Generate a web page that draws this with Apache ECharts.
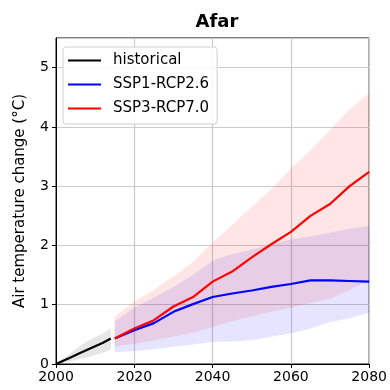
<!DOCTYPE html>
<html>
<head>
<meta charset="utf-8">
<script src="https://cdn.jsdelivr.net/npm/echarts@6/dist/echarts.min.js"></script>
<style>html,body{margin:0;padding:0;background:#fff}#c{width:390px;height:390px}</style>
</head>
<body>
<div id="c"></div>
<script>
const titleText = 'Afar';
const yLabel = 'Air temperature change (°C)';
const seriesNames = ['historical', 'SSP1-RCP2.6', 'SSP3-RCP7.0'];

const histYears = [2000, 2002, 2004, 2006, 2008, 2010, 2012, 2014];
const histMean  = [0.00, 0.06, 0.12, 0.18, 0.24, 0.30, 0.36, 0.43];
const histUpper = [0.00, 0.10, 0.20, 0.30, 0.38, 0.45, 0.52, 0.60];
const histLower = [0.00, 0.02, 0.05, 0.08, 0.11, 0.15, 0.19, 0.24];

const sspYears  = [2015, 2020, 2025, 2030, 2035, 2040, 2045, 2050, 2055, 2060, 2065, 2070, 2075, 2080];
const ssp126Mean  = [0.43, 0.57, 0.69, 0.88, 1.01, 1.13, 1.19, 1.24, 1.30, 1.35, 1.41, 1.41, 1.40, 1.39];
const ssp126Upper = [0.72, 0.95, 1.12, 1.30, 1.50, 1.74, 1.85, 1.93, 2.02, 2.10, 2.15, 2.22, 2.28, 2.33];
const ssp126Lower = [0.20, 0.22, 0.25, 0.29, 0.33, 0.37, 0.38, 0.40, 0.46, 0.52, 0.60, 0.71, 0.77, 0.86];
const ssp370Mean  = [0.43, 0.60, 0.74, 0.97, 1.13, 1.39, 1.56, 1.80, 2.02, 2.23, 2.50, 2.70, 3.00, 3.24];
const ssp370Upper = [0.80, 1.05, 1.25, 1.48, 1.72, 2.05, 2.35, 2.65, 2.95, 3.30, 3.60, 3.95, 4.30, 4.57];
const ssp370Lower = [0.30, 0.34, 0.40, 0.46, 0.53, 0.63, 0.72, 0.80, 0.88, 0.95, 1.03, 1.10, 1.25, 1.42];

const xTicks = [2000, 2020, 2040, 2060, 2080];
const yTicks = [0, 1, 2, 3, 4, 5];

const pairs = (xs, ys) => xs.map((x, i) => [x, ys[i]]);

function band(id, xs, up, lo, color) {
  const rows = xs.map((x, i) => [x, lo[i], up[i]]);
  return {
    name: id, type: 'custom', data: rows, encode: { x: 0, y: [1, 2] }, silent: true, z: 1,
    renderItem: (params, api) => {
      if (params.dataIndex !== 0) return null;
      const pts = [];
      for (let i = 0; i < rows.length; i++) pts.push(api.coord([rows[i][0], rows[i][2]]));
      for (let i = rows.length - 1; i >= 0; i--) pts.push(api.coord([rows[i][0], rows[i][1]]));
      return { type: 'polygon', shape: { points: pts }, style: { fill: color, stroke: null } };
    }
  };
}

const FONT = 'DejaVu Sans';
const chart = echarts.init(document.getElementById('c'), null, { renderer: 'canvas' });
chart.setOption({
  animation: false,
  backgroundColor: '#fff',
  title: { text: titleText, left: 212, top: 8, textAlign: 'center',
    textStyle: { fontFamily: FONT, fontSize: 18, fontWeight: 'bold', color: '#000' } },
  grid: { left: 56, right: 20, top: 38, bottom: 26, show: true, borderColor: '#000', borderWidth: 1, backgroundColor: 'transparent' },
  legend: {
    data: seriesNames, orient: 'vertical', left: 63, top: 47,
    backgroundColor: 'rgba(255,255,255,0.85)', borderColor: '#d0d0d0', borderWidth: 1, borderRadius: 3,
    padding: [6, 8, 8, 5], itemGap: 9, itemWidth: 33, itemHeight: 15,
    icon: 'path://M0,6.4 L33,6.4 L33,8.6 L0,8.6 Z',
    textStyle: { fontFamily: FONT, fontSize: 15, color: '#000', padding: [0, 0, 0, 7] }
  },
  xAxis: {
    type: 'value', min: 2000, max: 2080, interval: 20,
    axisLine: { show: true, lineStyle: { color: '#000', width: 1 } },
    axisTick: { show: true, length: 4, lineStyle: { color: '#000' } },
    axisLabel: { fontFamily: FONT, fontSize: 14, color: '#000', margin: 6,
      formatter: v => xTicks.includes(v) ? String(v) : '' },
    splitLine: { show: true, lineStyle: { color: '#cbcbcb', width: 1.2 } }
  },
  yAxis: {
    type: 'value', min: 0, max: 5.5, interval: 1,
    name: yLabel, nameLocation: 'middle', nameGap: 28, nameRotate: 90,
    nameTextStyle: { fontFamily: FONT, fontSize: 15, color: '#000' },
    axisLine: { show: true, lineStyle: { color: '#000', width: 1 } },
    axisTick: { show: true, length: 4, lineStyle: { color: '#000' } },
    axisLabel: { fontFamily: FONT, fontSize: 14, color: '#000', margin: 7, showMaxLabel: false,
      formatter: v => yTicks.includes(v) ? String(v) : '' },
    splitLine: { show: true, lineStyle: { color: '#cbcbcb', width: 1.2 } }
  },
  series: [
    band('hist_band', histYears, histUpper, histLower, 'rgba(128,128,128,0.2)'),
    band('s126_band', sspYears, ssp126Upper, ssp126Lower, 'rgba(0,0,255,0.1)'),
    band('s370_band', sspYears, ssp370Upper, ssp370Lower, 'rgba(255,0,0,0.1)'),
    { name: seriesNames[0], type: 'line', data: pairs(histYears, histMean), symbol: 'none',
      lineStyle: { color: '#000', width: 2.2 }, itemStyle: { color: '#000' }, z: 3 },
    { name: seriesNames[1], type: 'line', data: pairs(sspYears, ssp126Mean), symbol: 'none',
      lineStyle: { color: '#0000ff', width: 2.2 }, itemStyle: { color: '#0000ff' }, z: 3 },
    { name: seriesNames[2], type: 'line', data: pairs(sspYears, ssp370Mean), symbol: 'none',
      lineStyle: { color: '#ff0000', width: 2.2 }, itemStyle: { color: '#ff0000' }, z: 4 }
  ]
});
</script>
</body>
</html>
